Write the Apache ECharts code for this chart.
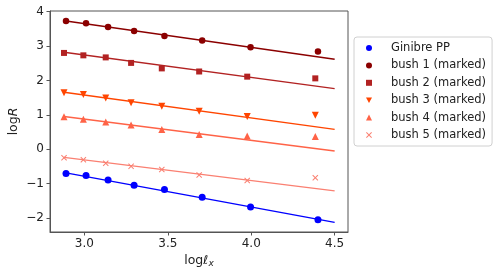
<!DOCTYPE html>
<html>
<head>
<meta charset="utf-8">
<script src="https://cdn.jsdelivr.net/npm/echarts@6/dist/echarts.min.js"></script>
<style>html,body{margin:0;padding:0;background:#fff;}#c{width:498px;height:276px;}</style>
</head>
<body>
<div id="c"></div>
<script>
// ---- data ----
const seriesNames = ['Ginibre PP', 'bush 1 (marked)', 'bush 2 (marked)', 'bush 3 (marked)', 'bush 4 (marked)', 'bush 5 (marked)'];
const xGinibre = [2.890, 3.010, 3.142, 3.298, 3.480, 3.706, 3.996, 4.400];
const xBush = [2.878, 2.994, 3.128, 3.280, 3.464, 3.688, 3.976, 4.384];
const yGinibre = [-0.71, -0.765, -0.90, -1.05, -1.17, -1.40, -1.68, -2.055];
const yBush1 = [3.73, 3.66, 3.555, 3.44, 3.29, 3.16, 2.965, 2.84];
const yBush2 = [2.80, 2.73, 2.67, 2.51, 2.35, 2.26, 2.11, 2.06];
const yBush3 = [1.64, 1.59, 1.49, 1.35, 1.25, 1.10, 0.95, 0.99];
const yBush4 = [0.94, 0.87, 0.79, 0.70, 0.57, 0.43, 0.38, 0.37];
const yBush5 = [-0.25, -0.31, -0.41, -0.50, -0.59, -0.75, -0.91, -0.83];
// fitted lines: [x0, x1] and [y0, y1]
const fitXGinibre = [2.89, 4.5];
const fitXBush = [2.878, 4.5];
const fitGinibre = [-0.69, -2.13];
const fitBush1 = [3.73, 2.615];
const fitBush2 = [2.82, 1.76];
const fitBush3 = [1.657, 0.575];
const fitBush4 = [0.95, -0.055];
const fitBush5 = [-0.24, -1.215];
const xTicks = [3.0, 3.5, 4.0, 4.5];
const yTicks = [-2, -1, 0, 1, 2, 3, 4];

const colors = ['#0000ff', '#8b0000', '#b22222', '#ff4500', '#ff6347', '#fa8072'];
const crossPath = 'path://M0,1.2L1.2,0L5,3.8L8.8,0L10,1.2L6.2,5L10,8.8L8.8,10L5,6.2L1.2,10L0,8.8L3.8,5Z';
const downTri = 'path://M0,0L10,0L5,9Z';
const symbols = ['circle', 'circle', 'rect', 'triangle', 'triangle', crossPath];
const legendIcons = ['circle', 'circle', 'rect', downTri, 'triangle', crossPath];
const rotates = [0, 0, 0, 180, 0, 0];
const sizes = [7, 6.5, 6, 7, 7, 6];
const xs = [xGinibre, xGinibre, xBush, xBush, xBush, xBush];
const ys = [yGinibre, yBush1, yBush2, yBush3, yBush4, yBush5];
const fitXs = [fitXGinibre, fitXGinibre, fitXBush, fitXBush, fitXBush, fitXBush];
const fits = [fitGinibre, fitBush1, fitBush2, fitBush3, fitBush4, fitBush5];

const FONT = 'DejaVu Sans';
const series = [];
for (let i = 0; i < 6; i++) {
  series.push({
    name: 'fit' + i, type: 'line', silent: true, symbol: 'none', z: 2,
    data: fitXs[i].map((x, j) => [x, fits[i][j]]),
    lineStyle: { color: colors[i], width: 1.4 }
  });
}
for (let i = 0; i < 6; i++) {
  series.push({
    name: seriesNames[i], type: 'scatter', z: 3,
    symbol: symbols[i], symbolRotate: rotates[i], symbolSize: sizes[i],
    data: xs[i].map((x, j) => [x, ys[i][j]]),
    itemStyle: { color: colors[i], opacity: 1 }
  });
}

const chart = echarts.init(document.getElementById('c'), null, { renderer: 'canvas' });
chart.setOption({
  animation: false,
  backgroundColor: '#fff',
  grid: { left: 50, top: 11, width: 298, height: 221, containLabel: false, outerBoundsMode: 'none',
          show: true, borderColor: '#555', borderWidth: 1, backgroundColor: 'transparent' },
  legend: {
    data: seriesNames.map((n, i) => ({ name: n, icon: legendIcons[i] })),
    orient: 'vertical', left: 354, top: 37,
    padding: [4, 6, 4, 12], itemGap: 3.4, itemWidth: 6, itemHeight: 6, symbolKeepAspect: true,
    borderColor: '#d0d0d0', borderWidth: 1, borderRadius: 3, backgroundColor: '#fff',
    textStyle: { fontFamily: FONT, fontSize: 11.5, color: '#222', lineHeight: 14, padding: [0, 0, 0, 14] }
  },
  xAxis: {
    type: 'value', min: 2.794, max: 4.58,
    axisLine: { show: true, onZero: false, lineStyle: { color: '#555', width: 1 } },
    axisTick: { show: true, inside: false, length: 3.5, customValues: xTicks, lineStyle: { color: '#555' } },
    axisLabel: { customValues: xTicks, margin: 6, fontFamily: FONT, fontSize: 12, color: '#222', formatter: v => v.toFixed(1) },
    splitLine: { show: false },
    name: '{n|log}{i|ℓ}{s|x}', nameLocation: 'middle', nameGap: 21, nameMoveOverlap: false,
    nameTextStyle: { rich: {
      n: { fontFamily: FONT, fontSize: 12.5, color: '#222' },
      i: { fontFamily: FONT, fontSize: 12.5, fontStyle: 'italic', color: '#222' },
      s: { fontFamily: FONT, fontSize: 9, fontStyle: 'italic', color: '#222', padding: [6, 0, 0, 0] }
    } }
  },
  yAxis: {
    type: 'value', min: -2.41, max: 4.02,
    axisLine: { show: true, onZero: false, lineStyle: { color: '#555', width: 1 } },
    axisTick: { show: true, inside: false, length: 3.5, customValues: yTicks, lineStyle: { color: '#555' } },
    axisLabel: { customValues: yTicks, margin: 6, fontFamily: FONT, fontSize: 12, color: '#222', formatter: v => String(v).replace('-', '\u2212') },
    splitLine: { show: false },
    name: '{n|log}{i|R}', nameLocation: 'middle', nameGap: 30, nameRotate: 90, nameMoveOverlap: false,
    nameTextStyle: { rich: {
      n: { fontFamily: FONT, fontSize: 12.5, color: '#222' },
      i: { fontFamily: FONT, fontSize: 12.5, fontStyle: 'italic', color: '#222' }
    } }
  },
  series: series
});
</script>
</body>
</html>
